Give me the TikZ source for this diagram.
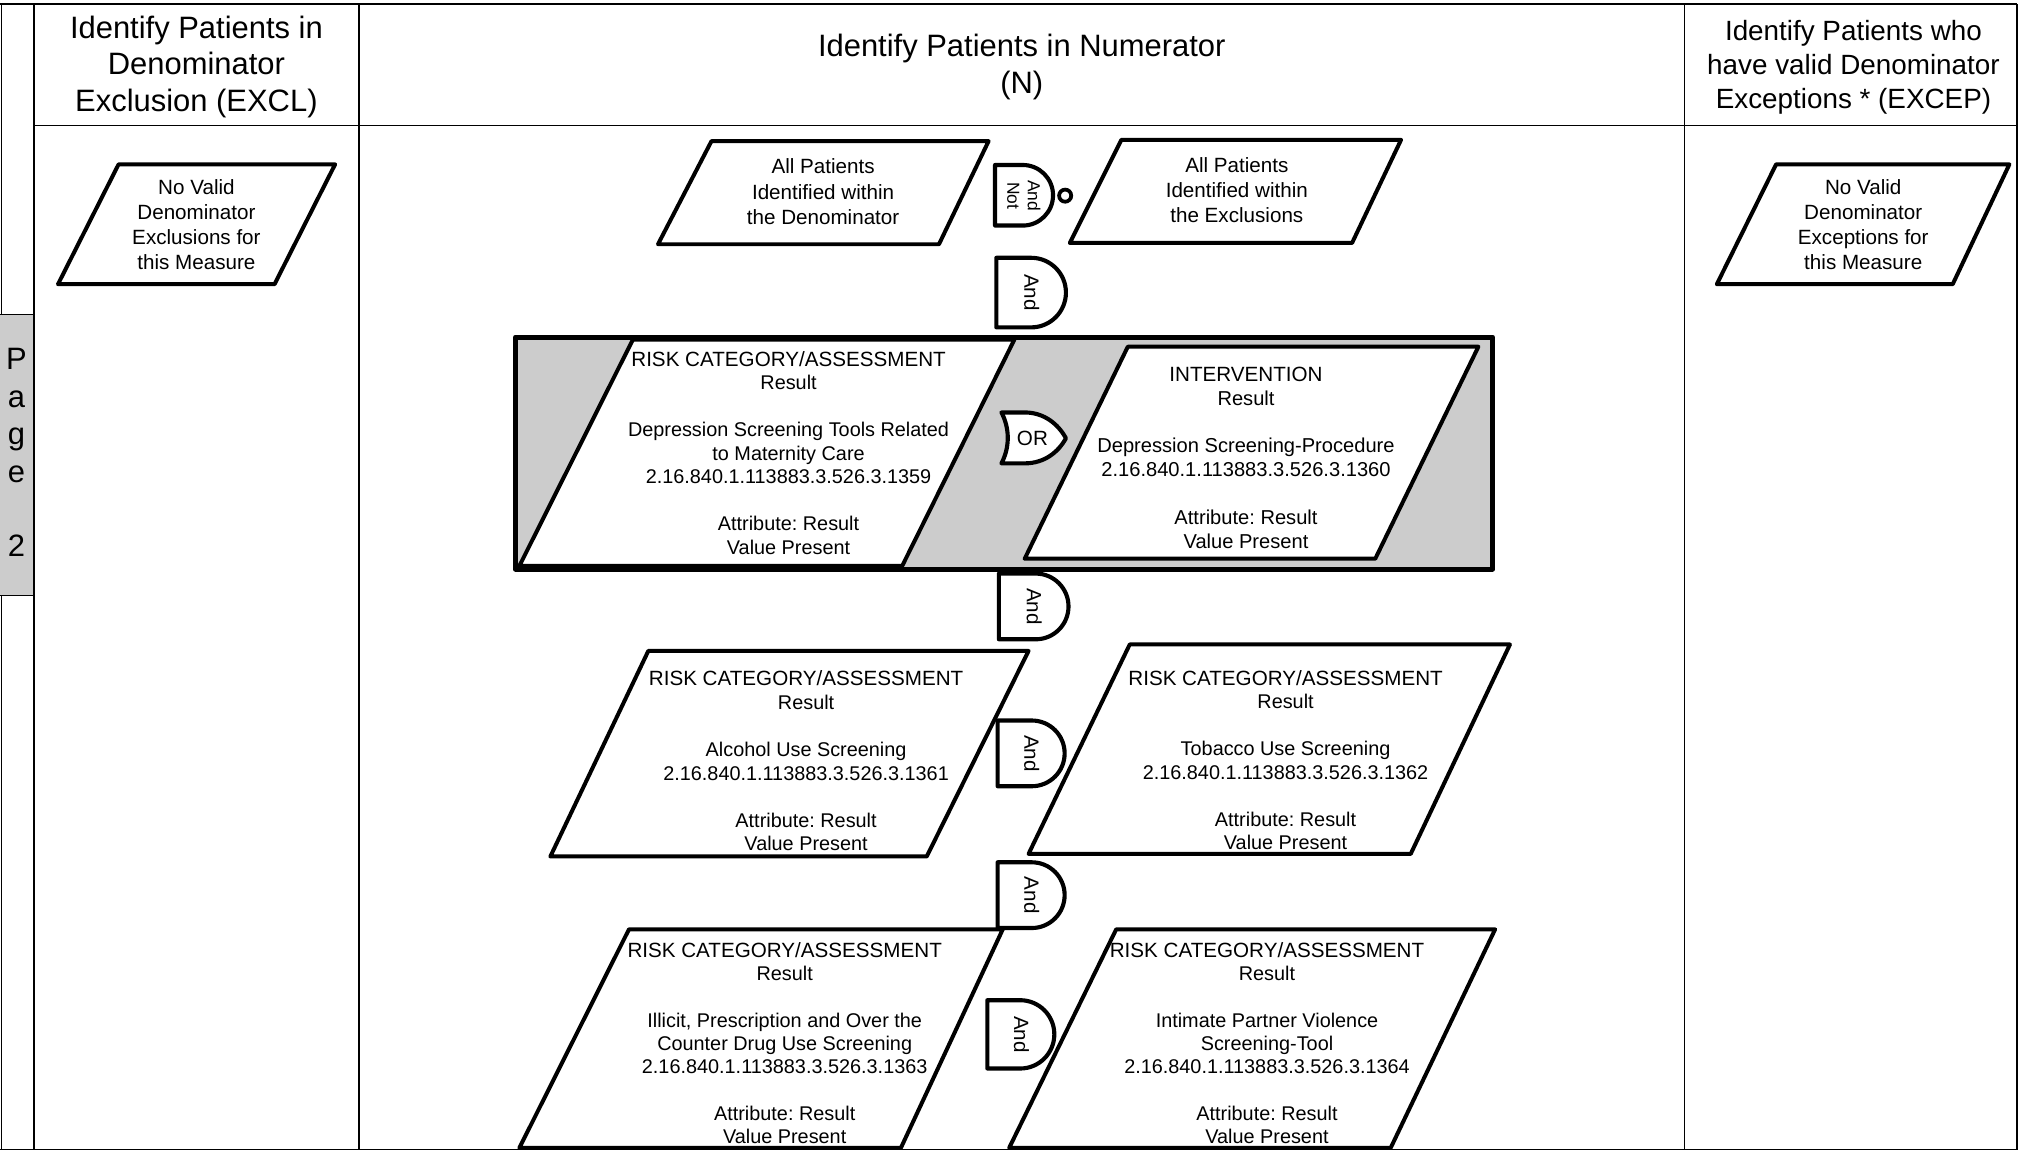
\documentclass[tikz,border=0pt]{standalone}
\usepackage{fontspec}
\setmainfont{Liberation Sans}
\definecolor{boxgray}{HTML}{CCCCCC}
\newcommand\parabox[7]{%
  \draw[para] (#2,#4) coordinate (#1-nw) -- (#3,#4) coordinate (#1-ne) -- (#6,#7) coordinate (#1-se) -- (#5,#7) coordinate (#1-sw) -- cycle;}
\newcommand\andgate[5]{%
  \draw[gate] (#2,#3) -- ({#5-(#4-#3)/2},#3) arc[start angle=-90,end angle=90,radius={(#4-#3)/2}] -- (#2,#4) -- cycle;
  \node[gatetxt,rotate=-90] (#1) at ({(#2+#5)/2+0.5},{(#3+#4)/2}) {And};}
\newcommand\hdline[1]{{\fontsize{16}{18.25}\selectfont #1}}
\begin{document}
\frenchspacing
\begin{tikzpicture}[x=1pt,y=-1pt,
  frame/.style={line width=1.2pt, draw=black},
  para/.style={draw=black, line width=3.1pt, fill=white, line join=round},
  gate/.style={draw=black, line width=3.2pt, fill=white, line join=round},
  boxtxt/.style={font=\fontsize{15.4}{18.25}\selectfont, align=center, inner sep=0pt, anchor=north},
  smalltxt/.style={font=\fontsize{16}{19.4}\selectfont, align=center, inner sep=0pt, anchor=north},
  headtxt/.style={font=\fontsize{24}{28.45}\selectfont, align=center, inner sep=0pt, anchor=north},
  gatetxt/.style={font=\fontsize{16}{16}\selectfont, inner sep=0pt}]

\useasboundingbox (0,0) rectangle (1568,894);
\fill[white] (0,0) rectangle (1568,894);

% ---------- frame ----------
\fill[boxgray] (0,244) rectangle (26.5,462);
\draw[frame] (0,3) -- (1565,3);
\draw[frame] (1.3,3) -- (1.3,244);
\draw[frame] (1.3,462) -- (1.3,892);
\draw[frame] (0,244) -- (26.5,244);
\draw[frame] (0,462) -- (26.5,462);
\draw[frame] (26.5,3) -- (26.5,892);
\draw[frame] (26.5,97.5) -- (1565,97.5);
\draw[frame] (278.5,3) -- (278.5,892);
\draw[frame] (1307,3) -- (1307,892);
\draw[frame] (1565,3) -- (1565,892);
\draw[frame] (0,892) -- (1565,892);

\node[font=\fontsize{24}{29}\selectfont, align=center, inner sep=0pt, anchor=north] (pagetab) at (12.8,270.3) {P\\a\\g\\e\\~\\2};

% ---------- headers ----------
\node[headtxt] (hExcl) at (152.4,12) {Identify Patients in\\Denominator\\Exclusion (EXCL)};
\node[headtxt, font=\fontsize{24}{29}\selectfont] (hNum) at (792.75,26.3) {Identify Patients in Numerator\\(N)};
\node[headtxt, font=\fontsize{21.6}{26.4}\selectfont] (hExcep) at (1438,15.5) {Identify Patients who\\have valid Denominator\\Exceptions * (EXCEP)};

% ---------- side boxes ----------
\parabox{excl}{92}{260}{127.5}{45}{213}{220.5}
\node[smalltxt] (exclT) at (152.4,139) {No Valid\\Denominator\\Exclusions for\\this Measure};
\parabox{excep}{1378}{1559}{127.5}{1332}{1515}{220.5}
\node[smalltxt] (excepT) at (1445.6,139) {No Valid\\Denominator\\Exceptions for\\this Measure};

% ---------- top row ----------
\parabox{allden}{552}{767}{109.5}{510.5}{728.5}{189.5}
\node[smalltxt] (alldenT) at (638.6,123.2) {All Patients\\Identified within\\the Denominator};
\parabox{allexc}{870}{1087}{108.5}{830}{1049}{188.5}
\node[smalltxt] (allexcT) at (959.6,122.2) {All Patients\\Identified within\\the Exclusions};

% And Not gate
\draw[gate] (772,128) -- (793.5,128) arc[start angle=-90,end angle=90,radius=23.5] -- (772,175) -- cycle;
\node[font=\fontsize{13.5}{16}\selectfont, align=center, inner sep=0pt, rotate=-90] (andnot) at (794.3,151.8) {And\\Not};
\node[circle, draw=black, line width=2.9pt, minimum size=9.4pt, inner sep=0pt] (notc) at (826.4,151.8) {};

\andgate{and1}{773}{200}{254}{827}

% ---------- OR group ----------
\fill[boxgray] (400,261.5) rectangle (1158,441.5);
\parabox{risk1}{491}{787}{263.5}{403}{700}{439}
\parabox{interv}{875}{1147}{269}{795}{1067}{433.5}
\draw[black, line width=3.9pt, line join=round] (400,261.5) rectangle (1158,441.5);
\node[boxtxt] (risk1T) at (611.8,272.2) {\hdline{RISK CATEGORY/ASSESSMENT}\\Result\\~\\Depression Screening Tools Related\\to Maternity Care\\2.16.840.1.113883.3.526.3.1359\\~\\Attribute: Result\\Value Present};
\node[boxtxt, font=\fontsize{15.6}{18.5}\selectfont] (intervT) at (966.7,284.4) {\hdline{INTERVENTION}\\Result\\~\\Depression Screening-Procedure\\2.16.840.1.113883.3.526.3.1360\\~\\Attribute: Result\\Value Present};
\draw[gate] (777,320) -- (795,320) .. controls (810,320) and (821,329) .. (827,340) .. controls (821,351) and (810,359.5) .. (795,359.5) -- (777,359.5) .. controls (783.5,347) and (783.5,332.5) .. (777,320) -- cycle;
\node[gatetxt] (orT) at (801,340) {OR};

\andgate{and2}{775}{445}{496}{829}

% ---------- alcohol / tobacco ----------
\parabox{alc}{503}{798}{505}{427}{719}{664.5}
\node[boxtxt] (alcT) at (625.4,520.4) {\hdline{RISK CATEGORY/ASSESSMENT}\\Result\\~\\Alcohol Use Screening\\2.16.840.1.113883.3.526.3.1361\\~\\Attribute: Result\\Value Present};
\parabox{tob}{876.5}{1171.5}{500}{798}{1094.5}{662.5}
\node[boxtxt] (tobT) at (997.4,519.7) {\hdline{RISK CATEGORY/ASSESSMENT}\\Result\\~\\Tobacco Use Screening\\2.16.840.1.113883.3.526.3.1362\\~\\Attribute: Result\\Value Present};
\andgate{and3}{774}{559}{610}{826}

\andgate{and4}{774}{669}{720}{826}

% ---------- illicit / IPV ----------
\parabox{ill}{488}{778}{721}{403}{699}{890.5}
\node[boxtxt, font=\fontsize{15.4}{18.1}\selectfont] (illT) at (608.8,730.7) {\hdline{RISK CATEGORY/ASSESSMENT}\\Result\\~\\Illicit, Prescription and Over the\\Counter Drug Use Screening\\2.16.840.1.113883.3.526.3.1363\\~\\Attribute: Result\\Value Present};
\parabox{ipv}{866}{1160}{721}{783}{1079}{890.5}
\node[boxtxt, font=\fontsize{15.4}{18.1}\selectfont] (ipvT) at (983,730.7) {\hdline{RISK CATEGORY/ASSESSMENT}\\Result\\~\\Intimate Partner Violence\\Screening-Tool\\2.16.840.1.113883.3.526.3.1364\\~\\Attribute: Result\\Value Present};
\andgate{and5}{766}{776}{829}{818}
\end{tikzpicture}
\end{document}
